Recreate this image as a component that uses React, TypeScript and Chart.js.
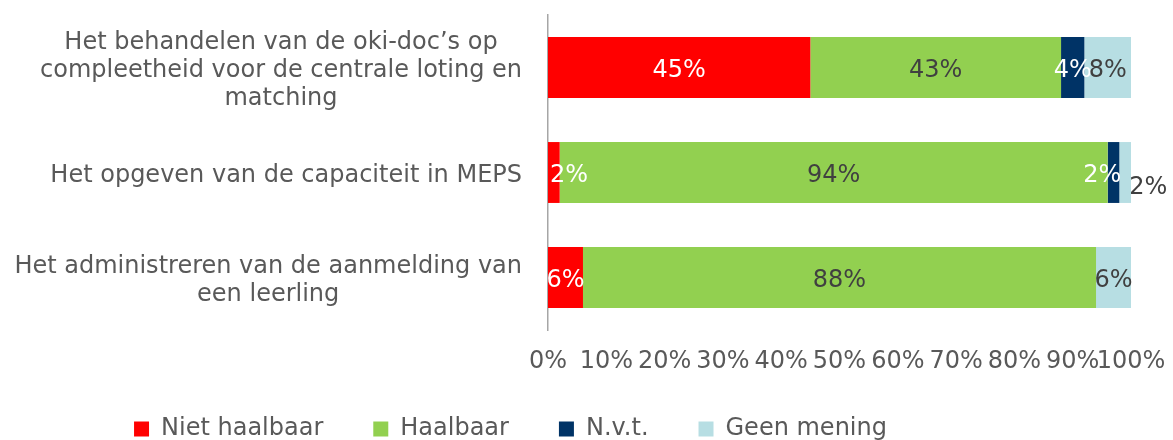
import React, { useEffect, useRef } from "react";
import { Chart, registerables } from "chart.js";

Chart.register(...registerables);

const categories: string[][] = [
  ["Het behandelen van de oki-doc’s op", "compleetheid voor de centrale loting en", "matching"],
  ["Het opgeven van de capaciteit in MEPS"],
  ["Het administreren van de aanmelding van", "een leerling"],
];
const seriesNames = ["Niet haalbaar", "Haalbaar", "N.v.t.", "Geen mening"];
const nietHaalbaar = [45, 2, 6];
const haalbaar = [43, 94, 88];
const nvt = [4, 2, 0];
const geenMening = [8, 2, 6];
const colors = ["#FF0000", "#92D050", "#003366", "#B7DEE3"];
const labelColors = ["#FFFFFF", "#404040", "#FFFFFF", "#404040"];
const xTicks = [0, 10, 20, 30, 40, 50, 60, 70, 80, 90, 100];

const FONT = "'DejaVu Sans', Verdana, sans-serif";
const FS = 24;
const LINE_H = 28;
const TEXT_COLOR = "#595959";
const TEXT_DY = 3;

const labelPlugin = {
  id: "segLabels",
  afterUpdate(chart: any) {
    const lg = chart.legend;
    if (!lg) return;
    lg.left -= 55;
    lg.right -= 55;
    if (lg.adjustHitBoxes) lg.adjustHitBoxes();
  },
  afterDatasetsDraw(chart: any) {
    const ctx = chart.ctx;
    ctx.save();
    ctx.font = `${FS}px ${FONT}`;
    chart.data.datasets.forEach((ds: any, di: number) => {
      const meta = chart.getDatasetMeta(di);
      meta.data.forEach((el: any, i: number) => {
        const v = ds.data[i];
        if (!v) return;
        const text = `${v}%`;
        const x0 = Math.min(el.base, el.x);
        const x1 = Math.max(el.base, el.x);
        const w = x1 - x0;
        ctx.fillStyle = labelColors[di];
        ctx.textBaseline = "middle";
        let tx = (x0 + x1) / 2;
        let ty = el.y + TEXT_DY;
        ctx.textAlign = "center";
        if (w < 15) {
          if (di === 0) {
            ctx.textAlign = "left";
            tx = x0 + 2;
          } else if (di === chart.data.datasets.length - 1) {
            ctx.textAlign = "left";
            tx = x0 + 10;
            ty = el.y + 15;
          } else {
            ctx.textAlign = "right";
            tx = x1 + 2;
          }
        }
        ctx.fillText(text, tx, ty);
      });
    });
    // category labels: block right-aligned, lines centred within block
    const ys = chart.scales.y;
    const rightX = ys.right - 26;
    ctx.fillStyle = TEXT_COLOR;
    ctx.textAlign = "center";
    ctx.textBaseline = "middle";
    categories.forEach((lines, i) => {
      const cy = ys.getPixelForTick(i) + TEXT_DY;
      const blockW = Math.max(...lines.map((l) => ctx.measureText(l).width));
      const cx = rightX - blockW / 2;
      const startY = cy - ((lines.length - 1) * LINE_H) / 2;
      lines.forEach((l, k) => ctx.fillText(l, cx, startY + k * LINE_H));
    });
    // x tick labels
    const xs = chart.scales.x;
    const ty = chart.chartArea.bottom + 32;
    xTicks.forEach((v) => {
      ctx.fillText(`${v}%`, xs.getPixelForValue(v), ty);
    });
    ctx.restore();
  },
};

export default function App() {
  const ref = useRef<HTMLCanvasElement>(null);
  useEffect(() => {
    document.body.style.margin = "0";
    const datasets = [nietHaalbaar, haalbaar, nvt, geenMening].map((d, i) => ({
      label: seriesNames[i],
      data: d,
      backgroundColor: colors[i],
      borderWidth: 0,
      barPercentage: 0.58,
      categoryPercentage: 1,
    }));
    const chart = new Chart(ref.current!, {
      type: "bar",
      data: { labels: categories.map((c) => c.join(" ")), datasets },
      plugins: [labelPlugin],
      options: {
        indexAxis: "y",
        animation: false,
        responsive: false,
        layout: { padding: { left: 0, right: 42, top: 15, bottom: -11 } },
        plugins: {
          legend: {
            position: "bottom",
            labels: {
              font: { family: FONT, size: FS },
              color: TEXT_COLOR,
              boxWidth: 15,
              boxHeight: 15,
              padding: 50,
            },
          },
          tooltip: { enabled: false },
        },
        scales: {
          x: {
            stacked: true,
            min: 0,
            max: 100,
            afterFit: (s: any) => {
              s.height = 37;
              s.paddingLeft = 0;
              s.paddingRight = 0;
            },
            ticks: { display: false },
            grid: { display: false, drawTicks: false },
            border: { display: false },
          },
          y: {
            stacked: true,
            afterFit: (s: any) => {
              s.width = 548;
              s.paddingTop = 0;
              s.paddingBottom = 0;
            },
            ticks: { display: false },
            grid: { display: false, drawTicks: false },
            border: { display: true, color: "#A6A6A6", width: 1.5 },
          },
        },
      },
    });
    return () => chart.destroy();
  }, []);
  return (
    <div style={{ width: 1173, height: 440 }}>
      <canvas ref={ref} width={1173} height={440} />
    </div>
  );
}
